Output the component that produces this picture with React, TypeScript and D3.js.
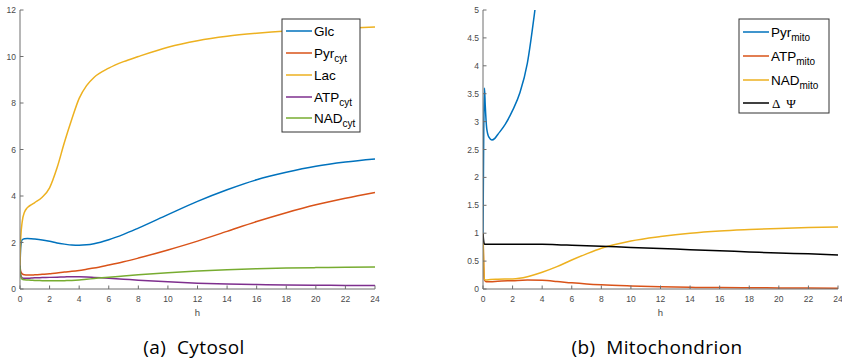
import React from "react";
import * as d3 from "d3";

// ---------- Data: (a) Cytosol ----------
const tCyt = [0, 0.05, 0.15, 0.3, 0.5, 0.75, 1, 1.5, 2, 2.5, 3, 3.5, 4, 4.5, 5, 6, 7, 8, 10, 12, 14, 16, 18, 20, 22, 24];
const glc = [1.0, 1.8, 2.12, 2.16, 2.17, 2.165, 2.15, 2.11, 2.05, 1.98, 1.93, 1.89, 1.88, 1.9, 1.95, 2.12, 2.35, 2.62, 3.2, 3.77, 4.27, 4.7, 5.02, 5.28, 5.46, 5.59];
const pyrCyt = [1.0, 0.75, 0.65, 0.61, 0.6, 0.6, 0.61, 0.63, 0.66, 0.69, 0.73, 0.76, 0.8, 0.85, 0.9, 1.03, 1.17, 1.33, 1.68, 2.06, 2.48, 2.9, 3.28, 3.62, 3.9, 4.15];
const lac = [1.0, 2.2, 2.9, 3.3, 3.5, 3.62, 3.72, 3.95, 4.35, 5.2, 6.3, 7.3, 8.2, 8.75, 9.1, 9.5, 9.78, 10.0, 10.4, 10.68, 10.87, 11.0, 11.1, 11.17, 11.22, 11.27];
const atpCyt = [1.0, 0.6, 0.48, 0.46, 0.46, 0.47, 0.48, 0.49, 0.5, 0.51, 0.52, 0.53, 0.53, 0.52, 0.5, 0.46, 0.42, 0.38, 0.31, 0.25, 0.21, 0.19, 0.17, 0.16, 0.155, 0.15];
const nadCyt = [1.0, 0.55, 0.42, 0.4, 0.39, 0.38, 0.37, 0.36, 0.35, 0.35, 0.36, 0.37, 0.39, 0.42, 0.45, 0.51, 0.56, 0.61, 0.7, 0.77, 0.83, 0.87, 0.9, 0.92, 0.935, 0.95];

// ---------- Data: (b) Mitochondrion ----------
const tPyrMito = [0, 0.05, 0.1, 0.15, 0.25, 0.4, 0.6, 0.8, 1, 1.5, 2, 2.5, 3, 3.5, 3.7];
const pyrMito = [1.0, 2.8, 3.6, 3.3, 2.88, 2.72, 2.67, 2.7, 2.77, 2.95, 3.2, 3.52, 4.05, 4.98, 5.4];
const tMito = [0, 0.05, 0.1, 0.2, 0.5, 1, 2, 3, 4, 5, 6, 7, 8, 10, 12, 14, 16, 18, 20, 22, 24];
const atpMito = [1.0, 0.4, 0.16, 0.13, 0.13, 0.14, 0.15, 0.16, 0.155, 0.135, 0.11, 0.09, 0.075, 0.055, 0.04, 0.03, 0.025, 0.022, 0.02, 0.018, 0.015];
const nadMito = [1.0, 0.4, 0.17, 0.16, 0.17, 0.175, 0.18, 0.22, 0.3, 0.4, 0.52, 0.63, 0.73, 0.86, 0.94, 1.0, 1.04, 1.065, 1.085, 1.1, 1.11];
const dPsi = [1.0, 0.85, 0.8, 0.8, 0.8, 0.8, 0.8, 0.8, 0.8, 0.795, 0.785, 0.775, 0.765, 0.745, 0.725, 0.705, 0.685, 0.665, 0.645, 0.63, 0.61];

const xTicks = [0, 2, 4, 6, 8, 10, 12, 14, 16, 18, 20, 22, 24];
const yTicksCyt = [0, 2, 4, 6, 8, 10, 12];
const yTicksMito = [0, 0.5, 1, 1.5, 2, 2.5, 3, 3.5, 4, 4.5, 5];

const C = {
  blue: "#0072BD",
  orange: "#D95319",
  yellow: "#EDB120",
  purple: "#7E2F8E",
  green: "#77AC30",
  black: "#000000",
};

type Series = { t: number[]; v: number[]; color: string; name: string; sub?: string; greek?: boolean };

const AXIS = "#6e6e6e";
const TICKTXT = "#4a4a4a";

function Panel(props: {
  x0: number;
  x1: number;
  yTop: number;
  yBot: number;
  yMax: number;
  yTicks: number[];
  series: Series[];
  legend: { x: number; y: number; w: number; h: number; rows: number[] };
  id: string;
  caption: string;
  captionX: number;
}) {
  const { x0, x1, yTop, yBot, yMax, yTicks, series, legend, id, caption, captionX } = props;
  const x = d3.scaleLinear().domain([0, 24]).range([x0, x1]);
  const y = d3.scaleLinear().domain([0, yMax]).range([yBot, yTop]);
  const line = (s: Series) =>
    d3
      .line<number>()
      .x((_, i) => x(s.t[i]))
      .y((d) => y(d))
      .curve(d3.curveMonotoneX)(s.v) || "";
  return (
    <g>
      <defs>
        <clipPath id={id}>
          <rect x={x0} y={yTop} width={x1 - x0 + 2} height={yBot - yTop} />
        </clipPath>
      </defs>
      <g clipPath={`url(#${id})`}>
        {series.map((s) => (
          <path key={s.name} d={line(s)} fill="none" stroke={s.color} strokeWidth={1.5} strokeLinejoin="round" />
        ))}
      </g>
      {/* axes */}
      <line x1={x0} x2={x0} y1={yTop} y2={yBot} stroke={AXIS} strokeWidth={1} />
      <line x1={x0} x2={x1} y1={yBot} y2={yBot} stroke={AXIS} strokeWidth={1} />
      {yTicks.map((t) => (
        <g key={"y" + t}>
          <line x1={x0} x2={x0 + 3.5} y1={y(t)} y2={y(t)} stroke={AXIS} strokeWidth={1} />
          <text x={x0 - 4} y={y(t) + 3} fontSize={8.5} textAnchor="end" fill={TICKTXT} fontFamily="Liberation Sans, Arial, sans-serif">
            {String(t)}
          </text>
        </g>
      ))}
      {xTicks.map((t) => (
        <g key={"x" + t}>
          <line x1={x(t)} x2={x(t)} y1={yBot} y2={yBot - 3.5} stroke={AXIS} strokeWidth={1} />
          <text x={x(t)} y={yBot + 13} fontSize={8.5} textAnchor="middle" fill={TICKTXT} fontFamily="Liberation Sans, Arial, sans-serif">
            {t}
          </text>
        </g>
      ))}
      <text x={(x0 + x1) / 2} y={yBot + 27} fontSize={9.5} textAnchor="middle" fill={TICKTXT} fontFamily="Liberation Sans, Arial, sans-serif">
        h
      </text>
      {/* legend */}
      <rect x={legend.x} y={legend.y} width={legend.w} height={legend.h} fill="#ffffff" stroke="#333" strokeWidth={1} />
      {series.map((s, i) => {
        const ly = legend.rows[i];
        return (
          <g key={"l" + s.name}>
            <line x1={legend.x + 4} x2={legend.x + 30} y1={ly} y2={ly} stroke={s.color} strokeWidth={1.5} />
            {s.greek ? (
              <text x={legend.x + 33} y={ly + 5} fontSize={13} fill="#000" fontFamily="Liberation Serif, Times New Roman, serif" style={{ whiteSpace: "pre" }}>
                {s.name}
              </text>
            ) : (
              <text x={legend.x + 32} y={ly + 4.5} fontSize={13.5} fill="#000" fontFamily="Liberation Sans, Arial, sans-serif">
                {s.name}
                {s.sub ? (
                  <tspan fontSize={10} dy={4.5}>
                    {s.sub}
                  </tspan>
                ) : null}
              </text>
            )}
          </g>
        );
      })}
      <text
        x={captionX}
        y={354}
        fontSize={19}
        textAnchor="middle"
        fill="#000"
        letterSpacing={0.4}
        fontFamily="Open Sans, Noto Sans, sans-serif"
        style={{ whiteSpace: "pre" }}
      >
        {caption}
      </text>
    </g>
  );
}

export default function App() {
  const cyt: Series[] = [
    { t: tCyt, v: glc, color: C.blue, name: "Glc" },
    { t: tCyt, v: pyrCyt, color: C.orange, name: "Pyr", sub: "cyt" },
    { t: tCyt, v: lac, color: C.yellow, name: "Lac" },
    { t: tCyt, v: atpCyt, color: C.purple, name: "ATP", sub: "cyt" },
    { t: tCyt, v: nadCyt, color: C.green, name: "NAD", sub: "cyt" },
  ];
  const mito: Series[] = [
    { t: tPyrMito, v: pyrMito, color: C.blue, name: "Pyr", sub: "mito" },
    { t: tMito, v: atpMito, color: C.orange, name: "ATP", sub: "mito" },
    { t: tMito, v: nadMito, color: C.yellow, name: "NAD", sub: "mito" },
    { t: tMito, v: dPsi, color: C.black, name: "\u0394  \u03A8", greek: true },
  ];
  return (
    <svg width={842} height={360} style={{ position: "absolute", left: 0, top: 0, background: "#fff" }}>
      <rect x={0} y={0} width={842} height={360} fill="#fff" />
      <Panel
        id="clipA"
        x0={20}
        x1={375}
        yTop={10}
        yBot={289}
        yMax={12}
        yTicks={yTicksCyt}
        series={cyt}
        legend={{ x: 282, y: 19, w: 78, h: 113, rows: [31, 53, 75, 97, 118] }}
        caption="(a)  Cytosol"
        captionX={194}
      />
      <Panel
        id="clipB"
        x0={483}
        x1={838}
        yTop={10}
        yBot={289}
        yMax={5}
        yTicks={yTicksMito}
        series={mito}
        legend={{ x: 739, y: 19, w: 90, h: 94, rows: [32, 56, 80, 103] }}
        caption="(b)  Mitochondrion"
        captionX={657}
      />
    </svg>
  );
}
